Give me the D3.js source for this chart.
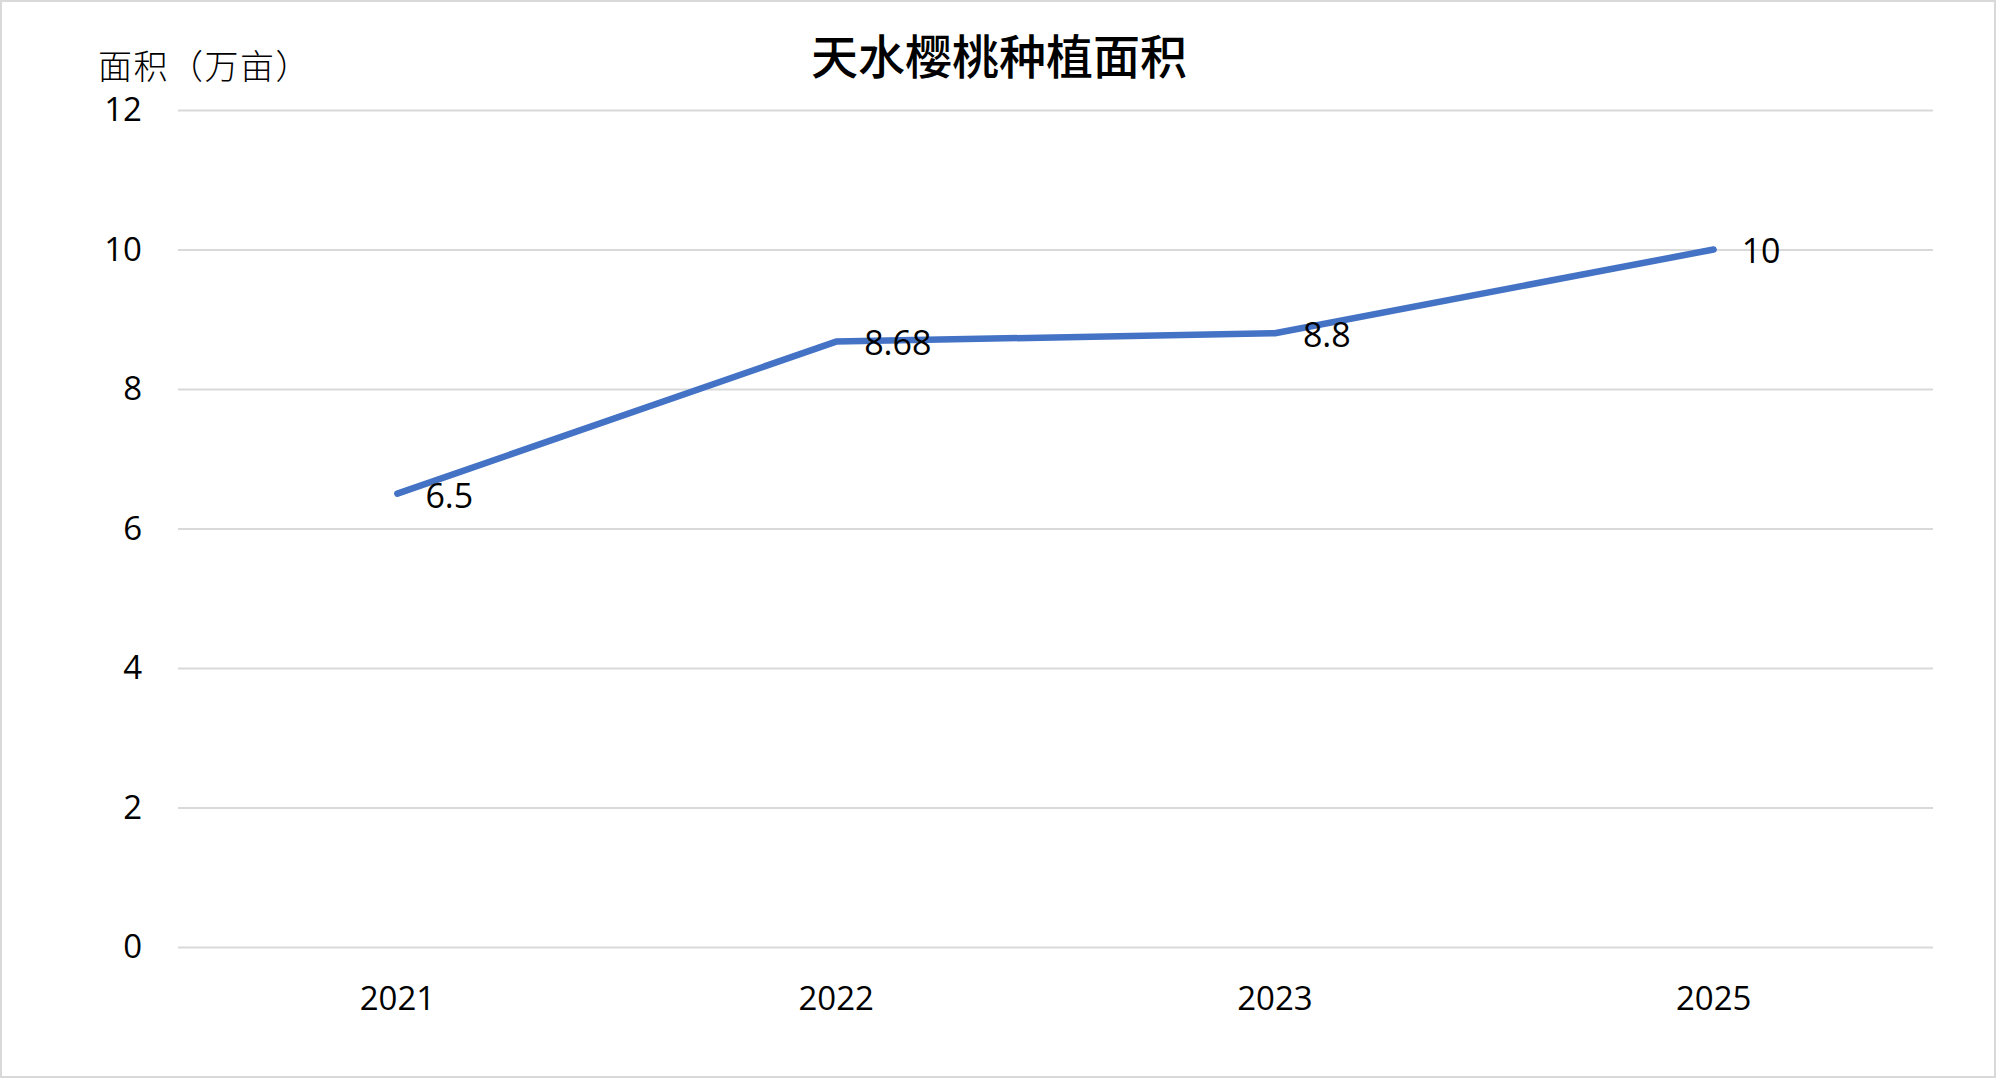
<!DOCTYPE html>
<html>
<head>
<meta charset="utf-8">
<script src="https://cdn.jsdelivr.net/npm/d3@7"></script>
<style>
  body { margin: 0; background: #fff; }
  svg text { font-family: "Open Sans", "Noto Sans", sans-serif; fill: #000; }
  .cjk { font-family: "Noto Sans CJK SC", sans-serif !important; }
</style>
</head>
<body>
<div id="chart"></div>
<script>
var years = ["2021", "2022", "2023", "2025"];
var areas = [6.5, 8.68, 8.8, 10];
var yTicks = [0, 2, 4, 6, 8, 10, 12];
var title = "天水樱桃种植面积";
var yTitle = "面积（万亩）";

var w = 1999, h = 1079,
    p = {"top": 110, "right": 66, "left": 178, "bottom": 132};

var svg = d3.select("#chart").append("svg")
  .attr("width", w)
  .attr("height", h)

// outer border
svg.append("rect")
  .attr("x", 1).attr("y", 1)
  .attr("width", w - 5).attr("height", h - 3)
  .attr("fill", "#fff")
  .attr("stroke", "#d9d9d9")
  .attr("stroke-width", 2)

var x = d3.scaleBand()
  .domain(years)
  .range([p.left, w - p.right])

var y = d3.scaleLinear()
  .domain([0, 12])
  .range([h - p.bottom, p.top])

// gridlines + y labels
var yAxis = svg.append("g")
  .attr("transform", "translate(" + p.left + ",0)")
  .call(d3.axisLeft(y).tickValues(yTicks).tickSize(-(w - p.right - p.left)).tickPadding(36))
yAxis.select(".domain").remove()
yAxis.selectAll(".tick line").attr("stroke", "#d9d9d9").attr("stroke-width", 2)
yAxis.selectAll(".tick text").attr("font-size", 33).attr("font-family", "Open Sans")

// x labels
var xAxis = svg.append("g")
  .attr("transform", "translate(0," + (h - p.bottom) + ")")
  .call(d3.axisBottom(x).tickSize(0).tickPadding(40))
xAxis.select(".domain").remove()
xAxis.selectAll(".tick text").attr("font-size", 33).attr("font-family", "Open Sans")

var line = d3.line()
  .x(function(d, i){ return x(years[i]) + x.bandwidth() / 2 })
  .y(function(d){ return y(d) })

svg.append("path")
  .datum(areas)
  .attr("d", line)
  .attr("fill", "none")
  .attr("stroke", "#4472C4")
  .attr("stroke-width", 6.5)
  .attr("stroke-linecap", "round")
  .attr("stroke-linejoin", "round")

svg.selectAll(".lbl")
  .data(areas)
  .enter()
    .append("text")
      .attr("class", "lbl")
      .attr("x", function(d, i){ return x(years[i]) + x.bandwidth() / 2 + 28 })
      .attr("y", function(d){ return y(d) + 2 })
      .attr("dy", "0.35em")
      .attr("font-size", 34)
      .text(function(d){ return d })

svg.append("text")
  .attr("class", "cjk")
  .attr("x", 999)
  .attr("y", 61)
  .attr("text-anchor", "middle")
  .attr("dominant-baseline", "middle")
  .attr("font-size", 47)
  .attr("font-weight", 500)
  .text(title)

svg.append("text")
  .attr("class", "cjk")
  .attr("x", 98)
  .attr("y", 70)
  .attr("dominant-baseline", "middle")
  .attr("font-size", 34)
  .attr("font-weight", 300)
  .attr("letter-spacing", 1.5)
  .text(yTitle)
</script>
</body>
</html>
